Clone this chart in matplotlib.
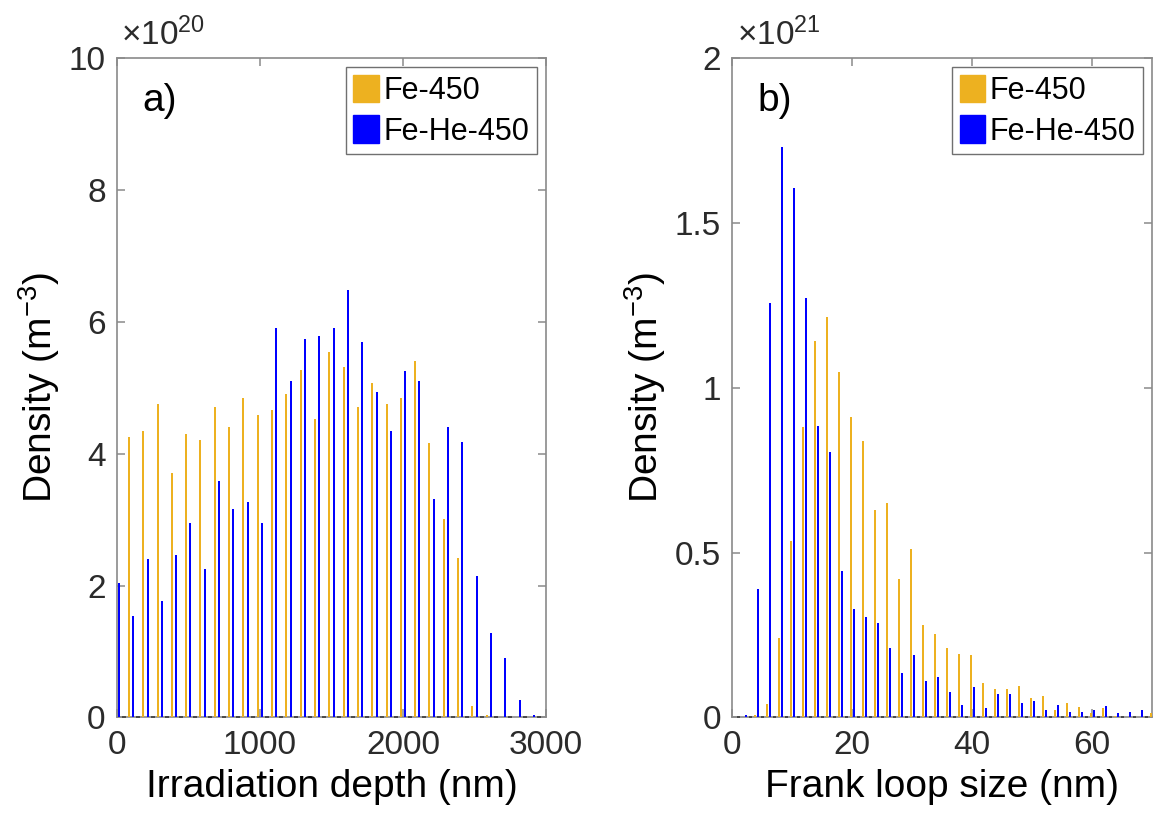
import matplotlib
matplotlib.use("Agg")
import matplotlib.pyplot as plt
import numpy as np

# ---- data ----
LABELS = ["Fe-450", "Fe-He-450"]
COLORS = ["#EDB120", "#0000FF"]

# a) density vs irradiation depth, in units of 1e20 m^-3
depth_nm = [0, 100, 200, 300, 400, 500, 600, 700, 800, 900, 1000,
            1100, 1200, 1300, 1400, 1500, 1600, 1700, 1800, 1900, 2000,
            2100, 2200, 2300, 2400, 2500, 2600, 2700, 2800, 2900, 3000]
fe450_depth = [0.0, 4.25, 4.34, 4.76, 3.71, 4.30, 4.21, 4.71, 4.40, 4.85, 4.59,
               4.67, 4.90, 5.27, 4.53, 5.55, 5.31, 4.71, 5.08, 4.76, 4.85,
               5.40, 4.16, 3.01, 2.42, 0.17, 0.03, 0.0, 0.0, 0.0, 0.0]
fehe450_depth = [2.04, 1.54, 2.41, 1.76, 2.46, 2.95, 2.25, 3.59, 3.16, 3.27, 2.95,
                 5.91, 5.10, 5.74, 5.79, 5.91, 6.49, 5.69, 4.93, 4.34, 5.26,
                 5.10, 3.32, 4.40, 4.18, 2.14, 1.28, 0.90, 0.26, 0.04, 0.0]

# b) density vs Frank loop size, in units of 1e21 m^-3
loop_nm = [2, 4, 6, 8, 10, 12, 14, 16, 18, 20, 22, 24, 26, 28, 30, 32, 34, 36,
           38, 40, 42, 44, 46, 48, 50, 52, 54, 56, 58, 60, 62, 64, 66, 68, 70]
fe450_loop = [0.0, 0.008, 0.041, 0.242, 0.534, 0.881, 1.141, 1.215, 1.048, 0.911,
              0.838, 0.630, 0.649, 0.420, 0.511, 0.281, 0.254, 0.211, 0.193, 0.188,
              0.105, 0.087, 0.087, 0.096, 0.060, 0.065, 0.022, 0.042, 0.032, 0.014,
              0.027, 0.004, 0.0, 0.0, 0.014]
fehe450_loop = [0.008, 0.388, 1.257, 1.732, 1.606, 1.272, 0.884, 0.804, 0.444, 0.330,
                0.305, 0.287, 0.210, 0.136, 0.189, 0.109, 0.121, 0.077, 0.037, 0.093,
                0.027, 0.071, 0.071, 0.044, 0.049, 0.022, 0.038, 0.017, 0.017, 0.022,
                0.033, 0.012, 0.017, 0.022, 0.0]

FONT = "Liberation Sans"
plt.rcParams["font.family"] = FONT
plt.rcParams["mathtext.fontset"] = "custom"
plt.rcParams["mathtext.rm"] = FONT
plt.rcParams["mathtext.it"] = FONT + ":italic"

AXIS_GRAY = "#8a8a8a"
TICK_TEXT = "#2b2b2b"


def draw_panel(ax, x, series, step, bar_w, offset, xlim, ylim, yticks, yticklabels,
               xticks, xlabel, tag, exponent):
    x = np.asarray(x, dtype=float)
    for vals, off, col in zip(series, offset, COLORS):
        ax.bar(x + off, vals, width=bar_w, color=col, edgecolor="none", zorder=3)

    # MATLAB-like broken baseline between bar groups
    mids = np.concatenate([x - step / 2, [x[-1] + step / 2]])
    mids = mids[(mids > xlim[0]) & (mids < xlim[1])]
    ax.hlines(np.zeros_like(mids), mids - 0.14 * step, mids + 0.14 * step,
              colors="#4a4a4a", linewidth=1.4, zorder=4, clip_on=False)

    ax.set_xlim(*xlim)
    ax.set_ylim(*ylim)
    ax.set_xticks(xticks)
    ax.set_yticks(yticks)
    ax.set_yticklabels(yticklabels)
    ax.tick_params(direction="in", top=True, right=True, length=6, width=1.1,
                   color=AXIS_GRAY, labelsize=24, labelcolor=TICK_TEXT)
    ax.tick_params(axis="x", pad=9)
    ax.tick_params(axis="y", pad=8)
    for sp in ax.spines.values():
        sp.set_color(AXIS_GRAY)
        sp.set_linewidth(1.2)

    ax.set_xlabel(xlabel, fontsize=28, labelpad=6)
    ax.set_ylabel(r"Density (m$^{\mathregular{-3}}$)", fontsize=28, labelpad=5)

    ax.text(0.06, 0.935, tag, transform=ax.transAxes, fontsize=28,
            ha="left", va="center")
    ax.text(0.01, 1.01, r"$\mathregular{\times10^{%d}}$" % exponent,
            transform=ax.transAxes, fontsize=24, color=TICK_TEXT,
            ha="left", va="bottom")

    handles = [plt.Rectangle((0, 0), 1, 1, color=c) for c in COLORS]
    leg = ax.legend(handles, LABELS, loc="upper right", fontsize=22,
                    handlelength=0.82, handleheight=1.0, handletextpad=0.16,
                    borderpad=0.25, labelspacing=0.3, borderaxespad=0.3,
                    fancybox=False, framealpha=1)
    leg.get_frame().set_edgecolor("#707070")
    leg.get_frame().set_linewidth(1.0)


fig = plt.figure(figsize=(11.56, 8.25), dpi=100)
ax_a = fig.add_axes([0.101, 0.1305, 0.3714, 0.7988])
ax_b = fig.add_axes([0.6335, 0.1305, 0.3633, 0.7988])

draw_panel(ax_a, depth_nm, [fe450_depth, fehe450_depth], step=100, bar_w=14,
           offset=[-15, 15], xlim=(0, 3000), ylim=(0, 10),
           yticks=[0, 2, 4, 6, 8, 10], yticklabels=["0", "2", "4", "6", "8", "10"],
           xticks=[0, 1000, 2000, 3000], xlabel="Irradiation depth (nm)",
           tag="a)", exponent=20)

draw_panel(ax_b, loop_nm, [fe450_loop, fehe450_loop], step=2, bar_w=0.33,
           offset=[-0.27, 0.27], xlim=(0, 70), ylim=(0, 2),
           yticks=[0, 0.5, 1, 1.5, 2], yticklabels=["0", "0.5", "1", "1.5", "2"],
           xticks=[0, 20, 40, 60], xlabel="Frank loop size (nm)",
           tag="b)", exponent=21)

fig.savefig("out.png", dpi=100)
